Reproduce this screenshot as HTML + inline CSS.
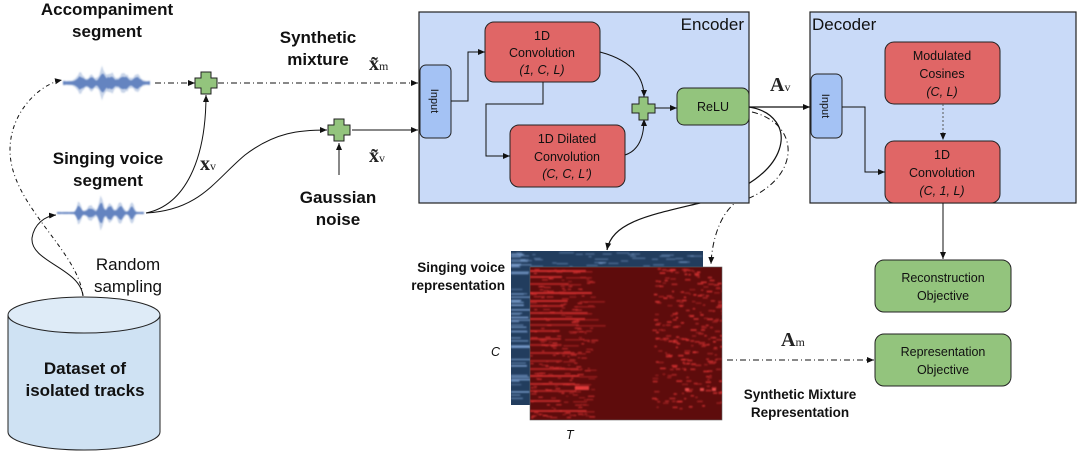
<!DOCTYPE html>
<html><head><meta charset="utf-8"><style>
body{margin:0;background:#fff;}
svg{display:block;font-family:"Liberation Sans",sans-serif;}
.b{font-weight:bold;font-size:17px;fill:#111;}
.n{font-size:12.5px;fill:#111;}
.m{font-family:"Liberation Serif",serif;font-weight:bold;font-size:20px;fill:#222;}
</style></head><body>
<svg width="1078" height="454" viewBox="0 0 1078 454" xmlns="http://www.w3.org/2000/svg">
<defs>
<marker id="a" markerWidth="8" markerHeight="8" refX="7" refY="4" orient="auto" markerUnits="userSpaceOnUse"><path d="M0,1 L7,4 L0,7 z" fill="#111"/></marker>
<clipPath id="cb"><rect x="511" y="251" width="192" height="154"/></clipPath>
<clipPath id="cr"><rect x="530" y="267" width="192" height="153"/></clipPath>
<filter id="bl"><feGaussianBlur stdDeviation="0.8"/></filter>
</defs>
<path d="M749,107 C800,115 795,180 700,203 C650,215 612,222 607,250" fill="none" stroke="#111" stroke-width="1.2" marker-end="url(#a)"/>
<path d="M752,112 C805,125 800,185 735,203 C720,215 712,240 711,264" fill="none" stroke="#111" stroke-width="1" stroke-dasharray="6,3,1,3" marker-end="url(#a)"/>
<rect x="419" y="12" width="330" height="191" fill="#c9daf8" stroke="#222" stroke-width="1.2"/>
<text x="744" y="30" text-anchor="end" style="font-size:17px" fill="#111">Encoder</text>
<rect x="420" y="65" width="31" height="73" rx="6" fill="#a4c2f4" stroke="#222"/>
<text transform="translate(431,101) rotate(90)" text-anchor="middle" class="n" style="font-size:11px">Input</text>
<rect x="485" y="22" width="115" height="60" rx="9" fill="#e06666" stroke="#222"/>
<text x="542" y="40" text-anchor="middle" class="n">1D</text>
<text x="542" y="57" text-anchor="middle" class="n">Convolution</text>
<text x="542" y="74" text-anchor="middle" class="n" font-style="italic">(1, C, L)</text>
<rect x="510" y="125" width="115" height="62" rx="9" fill="#e06666" stroke="#222"/>
<text x="567" y="143" text-anchor="middle" class="n">1D Dilated</text>
<text x="567" y="161" text-anchor="middle" class="n">Convolution</text>
<text x="567" y="178" text-anchor="middle" class="n" font-style="italic">(C, C, L')</text>
<path d="M451,101 H468 V52 H485" fill="none" stroke="#111" marker-end="url(#a)"/>
<path d="M543,82 V104 H486 V156 H510" fill="none" stroke="#111" marker-end="url(#a)"/>
<path d="M600,52 C630,60 644,75 644,97" fill="none" stroke="#111" marker-end="url(#a)"/>
<path d="M625,155 C640,150 644,135 644,119" fill="none" stroke="#111" marker-end="url(#a)"/>
<path d="M639,97 h9 v7 h7 v9 h-7 v7 h-9 v-7 h-7 v-9 h7 z" fill="#93c47d" stroke="#222"/>
<path d="M655,108 H677" stroke="#111" marker-end="url(#a)"/>
<rect x="677" y="88" width="72" height="37" rx="7" fill="#93c47d" stroke="#222"/>
<text x="713" y="111" text-anchor="middle" class="n">ReLU</text>
<path d="M749,107 H810" stroke="#111" stroke-width="1.2" marker-end="url(#a)"/>
<text x="770" y="91" class="m">A<tspan font-size="12" font-weight="normal">v</tspan></text>
<rect x="810" y="12" width="266" height="191" fill="#c9daf8" stroke="#222" stroke-width="1.2"/>
<text x="812" y="30" style="font-size:17px" fill="#111">Decoder</text>
<rect x="811" y="74" width="31" height="64" rx="6" fill="#a4c2f4" stroke="#222"/>
<text transform="translate(822,106) rotate(90)" text-anchor="middle" class="n" style="font-size:11px">Input</text>
<rect x="885" y="42" width="115" height="62" rx="9" fill="#e06666" stroke="#222"/>
<text x="942" y="60" text-anchor="middle" class="n">Modulated</text>
<text x="942" y="78" text-anchor="middle" class="n">Cosines</text>
<text x="942" y="96" text-anchor="middle" class="n" font-style="italic">(C, L)</text>
<rect x="885" y="141" width="115" height="62" rx="9" fill="#e06666" stroke="#222"/>
<text x="942" y="159" text-anchor="middle" class="n">1D</text>
<text x="942" y="177" text-anchor="middle" class="n">Convolution</text>
<text x="942" y="195" text-anchor="middle" class="n" font-style="italic">(C, 1, L)</text>
<path d="M943,104 V140" stroke="#555" stroke-dasharray="2,2" marker-end="url(#a)"/>
<path d="M842,107 H865 V172 H885" fill="none" stroke="#111" marker-end="url(#a)"/>
<path d="M943,203 V259" stroke="#111" marker-end="url(#a)"/>
<rect x="875" y="260" width="136" height="52" rx="9" fill="#93c47d" stroke="#222"/>
<text x="943" y="282" text-anchor="middle" class="n">Reconstruction</text>
<text x="943" y="300" text-anchor="middle" class="n">Objective</text>
<rect x="875" y="334" width="136" height="52" rx="9" fill="#93c47d" stroke="#222"/>
<text x="943" y="356" text-anchor="middle" class="n">Representation</text>
<text x="943" y="374" text-anchor="middle" class="n">Objective</text>
<path d="M727,360 H874" stroke="#111" stroke-dasharray="6,3,1,3" marker-end="url(#a)"/>
<text x="781" y="346" class="m">A<tspan font-size="12" font-weight="normal">m</tspan></text>
<text x="800" y="399" text-anchor="middle" class="b" style="font-size:13.5px">Synthetic Mixture</text>
<text x="800" y="417" text-anchor="middle" class="b" style="font-size:13.5px">Representation</text>
<rect x="511" y="251" width="192" height="154" fill="#223d5e"/>
<g id="blue" clip-path="url(#cb)" filter="url(#bl)"></g>
<rect x="530" y="267" width="192" height="153" fill="#5e0c0c" stroke="#666" stroke-width="0.6"/>
<g id="red" clip-path="url(#cr)" filter="url(#bl)"></g>
<text x="505" y="272" text-anchor="end" class="b" style="font-size:13.5px">Singing voice</text>
<text x="505" y="290" text-anchor="end" class="b" style="font-size:13.5px">representation</text>
<text x="491" y="356" class="n" font-style="italic">C</text>
<text x="566" y="439" class="n" font-style="italic">T</text>
<text x="107" y="15" text-anchor="middle" class="b">Accompaniment</text>
<text x="107" y="37" text-anchor="middle" class="b">segment</text>
<text x="108" y="164" text-anchor="middle" class="b">Singing voice</text>
<text x="108" y="186" text-anchor="middle" class="b">segment</text>
<text x="318" y="43" text-anchor="middle" class="b">Synthetic</text>
<text x="318" y="65" text-anchor="middle" class="b">mixture</text>
<text x="338" y="203" text-anchor="middle" class="b">Gaussian</text>
<text x="338" y="225" text-anchor="middle" class="b">noise</text>
<text x="128" y="270" text-anchor="middle" style="font-size:17px" fill="#111">Random</text>
<text x="128" y="292" text-anchor="middle" style="font-size:17px" fill="#111">sampling</text>
<text x="369" y="70" class="m">x̃<tspan font-size="12" font-weight="normal">m</tspan></text>
<text x="369" y="162" class="m">x̃<tspan font-size="12" font-weight="normal">v</tspan></text>
<text x="200" y="170" class="m">x<tspan font-size="12" font-weight="normal">v</tspan></text>
<g id="w1" filter="url(#bl)"></g><g id="w2" filter="url(#bl)"></g>
<path d="M155,83 H195" stroke="#111" stroke-dasharray="6,3,1,3" marker-end="url(#a)"/>
<path d="M218,83 H418" stroke="#111" stroke-dasharray="6,3,1,3" marker-end="url(#a)"/>
<path d="M352,130 H418" stroke="#111" marker-end="url(#a)"/>
<path d="M339,175 V143" stroke="#111" marker-end="url(#a)"/>
<path d="M146,213 C185,205 206,160 206,95" fill="none" stroke="#111" marker-end="url(#a)"/>
<path d="M146,213 C200,210 215,180 245,155 C275,132 300,130 327,130" fill="none" stroke="#111" marker-end="url(#a)"/>
<path d="M201,72 h10 v6 h6 v10 h-6 v6 h-10 v-6 h-6 v-10 h6 z" fill="#93c47d" stroke="#222"/>
<path d="M334,119 h10 v6 h6 v10 h-6 v6 h-10 v-6 h-6 v-10 h6 z" fill="#93c47d" stroke="#222"/>
<path d="M83,296 C80,268 30,262 32,238 C34,224 45,216 56,215" fill="none" stroke="#111" marker-end="url(#a)"/>
<path d="M83,296 C78,250 10,205 10,150 C10,112 40,84 62,80" fill="none" stroke="#111" stroke-dasharray="4,3,1,3" marker-end="url(#a)"/>
<path d="M8,315 V432 A76,18 0 0 0 160,432 V315" fill="#cfe2f3" stroke="#222"/>
<ellipse cx="84" cy="315" rx="76" ry="18" fill="#deebf7" stroke="#222"/>
<text x="85" y="374" text-anchor="middle" class="b">Dataset of</text>
<text x="85" y="396" text-anchor="middle" class="b">isolated tracks</text>
</svg>
<script>
var NS="http://www.w3.org/2000/svg";
function r(g,x,y,w,h,c,o){var e=document.createElementNS(NS,"rect");e.setAttribute("x",x);e.setAttribute("y",y);e.setAttribute("width",w);e.setAttribute("height",h);e.setAttribute("fill",c);e.setAttribute("opacity",o);g.appendChild(e);}
function poly(g,pts,c,o){var e=document.createElementNS(NS,"polygon");e.setAttribute("points",pts);e.setAttribute("fill",c);e.setAttribute("opacity",o);g.appendChild(e);}
var s=7;function rnd(){s=(s*9301+49297)%233280;return s/233280;}
function gs(t,c,w,a){return a*Math.exp(-Math.pow((t-c)/w,2));}
function wave(id,x0,x1,cy,env){var g=document.getElementById(id);
 [[1.6,0.3],[1,0.8]].forEach(function(p){var up=[],dn=[];for(var x=x0;x<=x1;x+=1.5){var a=env((x-x0)/(x1-x0))*p[0]*(0.85+0.3*rnd());up.push(x+","+(cy-a));dn.unshift(x+","+(cy+a));}poly(g,up.concat(dn).join(" "),"#4a6fb5",p[1]);});}
wave("w1",63,150,83,function(t){return 1.5+gs(t,0.2,0.05,5)+gs(t,0.33,0.04,4)+gs(t,0.45,0.04,8)+gs(t,0.55,0.05,5)+gs(t,0.7,0.06,5)+gs(t,0.85,0.05,4);});
wave("w2",57,145,213,function(t){return 0.8+gs(t,0.25,0.03,7)+gs(t,0.38,0.05,4)+gs(t,0.5,0.03,11)+gs(t,0.6,0.04,6)+gs(t,0.72,0.04,6)+gs(t,0.85,0.03,6);});
var b=document.getElementById("blue");
for(var i=0;i<45;i++){r(b,511,251+rnd()*152,8+rnd()*14,1.5,"#8fb4e6",0.3+0.5*rnd());}
for(var i=0;i<40;i++){r(b,515+rnd()*185,252+rnd()*14,3+rnd()*12,1.5,"#8fb4e6",0.35);}
var g=document.getElementById("red");
var rows=[270,276,283,292,300,305,312,318,324,330,338,344,352,360,368,375,383,390,400,410];
rows.forEach(function(y){r(g,530,y,25+rnd()*40,2,"#d83030",0.5+0.4*rnd());r(g,560+rnd()*20,y+1,10+rnd()*20,1.6,"#c52828",0.5);});
for(var i=0;i<220;i++){var x=530+rnd()*62;var y=268+rnd()*150;r(g,x,y,2+rnd()*5,1.5,"#d33",0.3+0.4*rnd());}
for(var i=0;i<260;i++){var x=652+rnd()*70;var y=268+rnd()*140;r(g,x,y,2+rnd()*4,1.8,"#d33",0.3+0.5*rnd());}
[685,700,712].forEach(function(x){r(g,x,388,4,3,"#f55",0.8);});r(g,575,386,14,4,"#f44",0.8);
</script>
</body></html>
